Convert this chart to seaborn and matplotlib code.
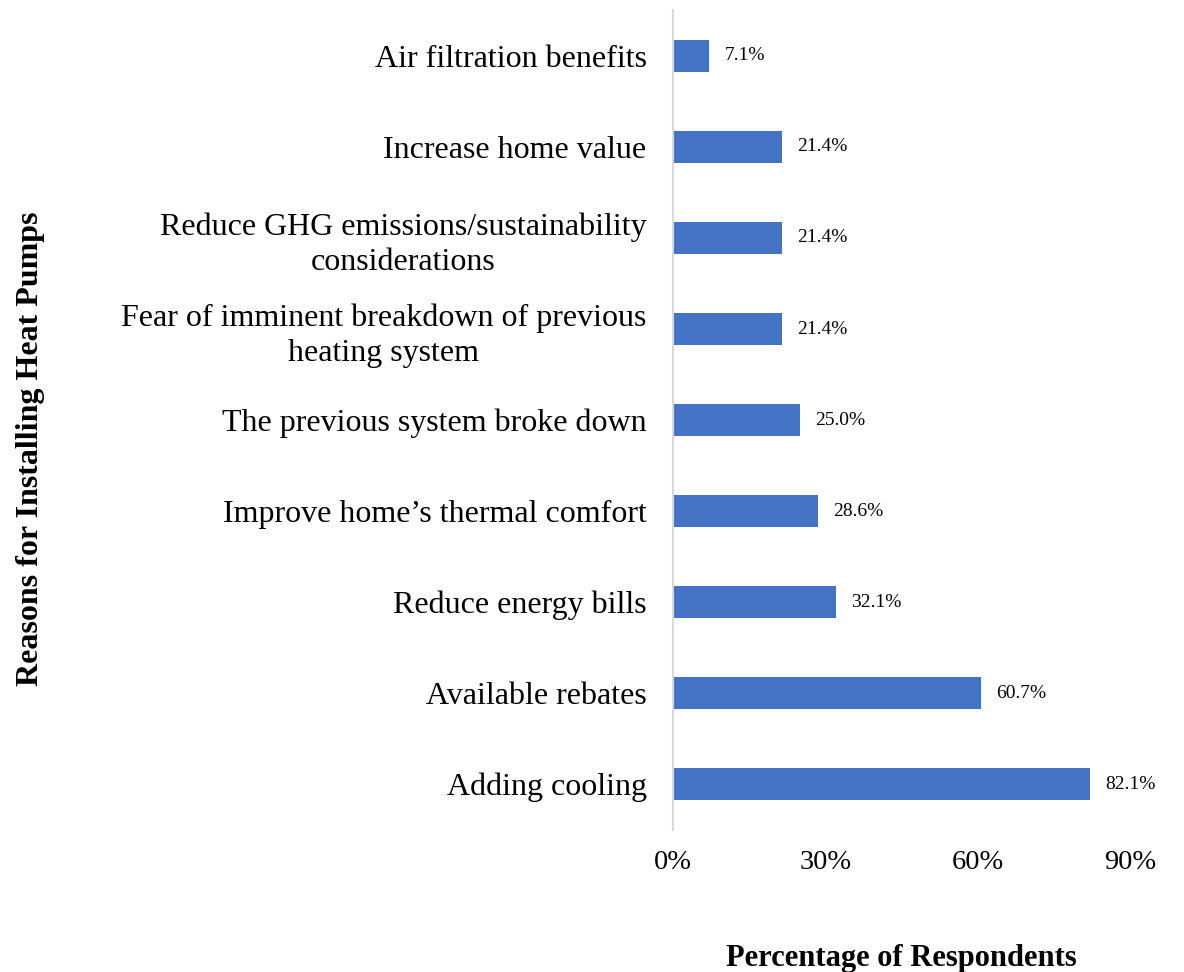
import matplotlib
matplotlib.use("Agg")
import matplotlib.pyplot as plt
import seaborn as sns
import pandas as pd

reasons = [
    "Air filtration benefits",
    "Increase home value",
    "Reduce GHG emissions/sustainability\nconsiderations",
    "Fear of imminent breakdown of previous\nheating system",
    "The previous system broke down",
    "Improve home\u2019s thermal comfort",
    "Reduce energy bills",
    "Available rebates",
    "Adding cooling",
]
percent = [7.1, 21.4, 21.4, 21.4, 25.0, 28.6, 32.1, 60.7, 82.1]
x_ticks = [0, 30, 60, 90]

sns.set_theme(style="white")
plt.rcParams["font.family"] = ["Liberation Serif", "DejaVu Serif"]
plt.rcParams["text.color"] = "black"
plt.rcParams["axes.labelcolor"] = "black"

df = pd.DataFrame({"reason": reasons, "pct": percent})

fig = plt.figure(figsize=(11.84, 9.72), dpi=100)
ax = fig.add_axes([0.5684, 0.1466, 0.9544 - 0.5684, 0.9892 - 0.1466])

sns.barplot(data=df, x="pct", y="reason", orient="h", color="#4472C4",
            width=0.35, linewidth=0, saturation=1, ax=ax)

ax.set_xlim(0, 90)
ax.set_ylim(len(reasons) - 0.5, -0.5)
ax.set_xticks(x_ticks)
ax.set_xticklabels([f"{t}%" for t in x_ticks], fontsize=20.5)
ax.tick_params(axis="x", length=0, pad=15, colors="black")
ax.tick_params(axis="y", length=0, pad=19, labelsize=23, colors="black")
for lbl in ax.get_yticklabels():
    lbl.set_multialignment("center")
    lbl.set_linespacing(1.27)

for s in ["top", "right", "bottom"]:
    ax.spines[s].set_visible(False)
ax.spines["left"].set_color("#D9D9D9")
ax.spines["left"].set_linewidth(1.5)

ax.bar_label(ax.containers[0], labels=[f"{v:.1f}%" for v in percent],
             padding=11, fontsize=14, color="black")

ax.set_xlabel("Percentage of Respondents", fontsize=22, fontweight="bold")
ax.xaxis.set_label_coords(0.5, -0.158)
ax.xaxis.label.set_va("center")
ax.set_ylabel("Reasons for Installing Heat Pumps", fontsize=23, fontweight="bold")
ax.yaxis.set_label_coords(-1.405, 0.4646)
ax.yaxis.label.set_va("center")

fig.savefig("out.png", dpi=100)
